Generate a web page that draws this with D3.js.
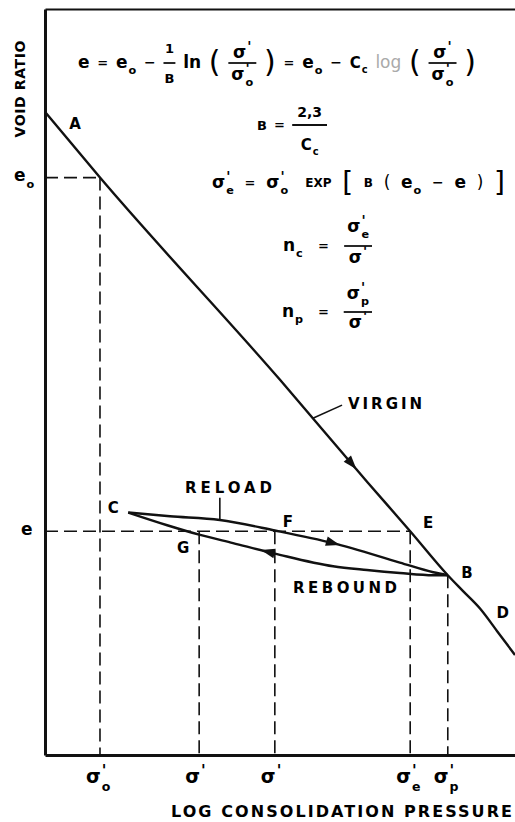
<!DOCTYPE html>
<meta charset="utf-8">
<script src="https://d3js.org/d3.v7.min.js"></script>
<style>
  body { margin: 0; background: #fff; }
  svg { font-family: "DejaVu Sans", sans-serif; font-weight: bold; }
</style>
<div id="chart"></div>
<script>

// schematic units: log consolidation pressure 0-100, void ratio 0-100
var virginX  = [0, 11.7, 50.0, 68.7, 77.7, 85.7, 88.9, 92.6, 96.2, 100];
var virginE  = [86.2, 77.4, 50.3, 36.5, 30.0, 24.1, 22.0, 19.6, 16.6, 13.4];
var reloadX  = [17.7, 26.6, 37.2, 48.9, 61.3, 75.5, 82.6, 85.7];
var reloadE  = [32.5, 32.0, 31.5, 30.1, 28.4, 25.8, 24.5, 24.1];
var reboundX = [17.7, 26.0, 33.0, 40.0, 48.9, 61.3, 68.5, 75.5, 82.6, 85.7];
var reboundE = [32.5, 30.8, 29.5, 28.4, 27.0, 25.3, 24.8, 24.4, 24.1, 24.1];

// pressure ticks (sigma'o, sigma', sigma', sigma'e, sigma'p) and the void ratio each guide rises to
var tickX   = [11.7, 32.8, 48.9, 77.7, 85.7];
var tickSub = ["o", "", "", "e", "p"];
var tickTop = [77.4, 30.0, 30.0, 30.0, 24.1];

// void ratio levels e_o and e, with the pressure where the dashed line stops
var eLevel = [77.4, 30.0];
var eSub   = ["o", ""];
var eStop  = [11.7, 77.7];

// point letters
var ptName = ["A", "C", "F", "E", "G", "B", "D"];
var ptX    = [6.4, 14.5, 51.7, 81.5, 29.4, 89.8, 97.4];
var ptE    = [84.7, 33.2, 31.3, 31.1, 27.8, 24.4, 19.1];

var width = 515, height = 822;
var svg = d3.select("#chart").append("svg")
    .attr("width", width)
    .attr("height", height);

var X = d3.scaleLinear().domain([0, 100]).range([45, 515]);
var Y = d3.scaleLinear().domain([0, 100]).range([755, 9]);

// frame: left axis, bottom axis, top line
svg.append("g").attr("transform", "translate(45,0)")
  .call(d3.axisLeft(Y).tickValues([]).tickSizeOuter(0));
svg.append("g").attr("transform", "translate(0,755)")
  .call(d3.axisBottom(X).tickValues([]).tickSizeOuter(0));
svg.append("g").attr("transform", "translate(0,9)")
  .call(d3.axisTop(X).tickValues([]).tickSizeOuter(0));
svg.selectAll(".domain").attr("stroke", "#111").attr("stroke-width", 3);
svg.select("g:nth-of-type(3) .domain").attr("stroke-width", 2.2);

// dashed guides
var dash = svg.append("g").attr("stroke", "#111").attr("stroke-width", 1.6)
  .attr("stroke-dasharray", "13,6").attr("fill", "none");
dash.selectAll(".v").data(tickX).enter().append("line")
  .attr("x1", function(d) { return X(d); })
  .attr("x2", function(d) { return X(d); })
  .attr("y1", function(d, i) { return Y(tickTop[i]); })
  .attr("y2", Y(0));
dash.selectAll(".h").data(eLevel).enter().append("line")
  .attr("x1", X(0))
  .attr("x2", function(d, i) { return X(eStop[i]); })
  .attr("y1", function(d) { return Y(d); })
  .attr("y2", function(d) { return Y(d); });

// curves
var line = d3.line()
  .x(function(d) { return X(d[0]); })
  .y(function(d) { return Y(d[1]); })
  .curve(d3.curveMonotoneX);

function curve(xs, es) {
  svg.append("path")
    .attr("d", line(xs.map(function(x, i) { return [x, es[i]]; })))
    .attr("fill", "none").attr("stroke", "#111").attr("stroke-width", 2.4);
  return d3.scaleLinear().domain(xs).range(es);
}
var fVirgin = curve(virginX, virginE);
var fReload = curve(reloadX, reloadE);
var fRebound = curve(reboundX, reboundE);

function arrow(f, xa, dir) {
  var x0 = X(xa), y0 = Y(f(xa));
  var x1 = X(xa + dir * 0.6), y1 = Y(f(xa + dir * 0.6));
  var ang = Math.atan2(y1 - y0, x1 - x0) * 180 / Math.PI;
  svg.append("path").attr("d", "M7,0L-7,-4.8L-7,4.8Z")
    .attr("transform", "translate(" + x0 + "," + y0 + ") rotate(" + ang + ")")
    .attr("fill", "#111");
}
arrow(fVirgin, 65.3, 1);
arrow(fReload, 61.3, 1);
arrow(fRebound, 47.4, -1);

// leaders for VIRGIN and RELOAD
svg.append("line").attr("x1", X(63.2)).attr("y1", Y(46.9))
  .attr("x2", X(57.0)).attr("y2", Y(fVirgin(57.0)))
  .attr("stroke", "#111").attr("stroke-width", 1.6);
svg.append("line").attr("x1", X(37.2)).attr("y1", Y(34.5))
  .attr("x2", X(37.2)).attr("y2", Y(fReload(37.2)))
  .attr("stroke", "#111").attr("stroke-width", 1.6);

// point letters
svg.selectAll(".pt").data(ptName).enter().append("text")
  .attr("x", function(d, i) { return X(ptX[i]); })
  .attr("y", function(d, i) { return Y(ptE[i]) + 5.5; })
  .attr("text-anchor", "middle")
  .attr("font-size", 15)
  .text(function(d) { return d; });

// curve names and axis titles
function label(s, x, y, len, fs) {
  return svg.append("text").attr("x", x).attr("y", y).attr("font-size", fs)
    .attr("textLength", len).attr("lengthAdjust", "spacing").text(s);
}
label("VIRGIN", 348, 409, 74, 15);
label("RELOAD", 185, 493, 87, 15);
label("REBOUND", 293, 593, 104, 15);
label("LOG CONSOLIDATION PRESSURE", 171, 817, 341, 16);
label("VOID RATIO", 0, 0, 97, 14)
  .attr("text-anchor", "middle")
  .attr("transform", "translate(25,89) rotate(-90)");

// --- little math layout helper ---
function item(g, it, cy) {
  if (it.frac) {
    var gn = g.append("g"), gd = g.append("g");
    var wn = item(gn, it.frac[0], cy + it.dy[0]);
    var wd = item(gd, it.frac[1], cy + it.dy[1]);
    var w = Math.max(wn, wd) + (it.pad || 6);
    gn.attr("transform", "translate(" + (w - wn) / 2 + ",0)");
    gd.attr("transform", "translate(" + (w - wd) / 2 + ",0)");
    g.append("line").attr("x1", 0).attr("x2", w).attr("y1", cy).attr("y2", cy)
      .attr("stroke", "#111").attr("stroke-width", 1.8);
    return w;
  }
  var fs = it.fs || 17;
  var t = g.append("text").attr("x", 0).attr("y", cy + fs * (it.base || 0.28))
    .attr("font-size", fs).text(it.t);
  if (it.fill) t.attr("fill", it.fill);
  if (it.w) t.attr("font-weight", it.w);
  var w = t.node().getComputedTextLength(), ext = 0;
  if (it.pr) {
    var p = g.append("text").attr("x", w + 1).attr("y", cy - fs * 0.1)
      .attr("font-size", fs * 0.8).text("'");
    ext = Math.max(ext, p.node().getComputedTextLength() + 1);
  }
  if (it.sub) {
    var s = g.append("text").attr("x", w + 1).attr("y", cy + fs * 0.66)
      .attr("font-size", fs * 0.66).text(it.sub);
    ext = Math.max(ext, s.node().getComputedTextLength() + 1);
  }
  return w + ext;
}

function row(items, x0, x1, cy) {
  var g = svg.append("g");
  var parts = items.map(function(it) {
    var gg = g.append("g");
    return { g: gg, w: item(gg, it, cy), k: it.gap == null ? 1 : it.gap };
  });
  var sum = d3.sum(parts, function(p) { return p.w; });
  var ks = d3.sum(parts.slice(1), function(p) { return p.k; });
  var unit = (x1 - x0 - sum) / ks, x = x0;
  parts.forEach(function(p, i) {
    if (i) x += p.k * unit;
    p.g.attr("transform", "translate(" + x + ",0)");
    x += p.w;
  });
}

var sig = { t: "σ", pr: 1 };
function sigma(sub, fs) { return { t: "σ", pr: 1, sub: sub, fs: fs }; }
function paren(c, fs) { return { t: c, fs: fs || 30, w: "normal", base: 0.31 }; }
var eq = { t: "=", fs: 13 }, minus = { t: "−", fs: 14 };

row([
  { t: "e" }, eq, { t: "e", sub: "o" }, minus,
  { frac: [{ t: "1", fs: 13, base: 0.36 }, { t: "B", fs: 13, base: 0.36 }], dy: [-15, 15], pad: 2 },
  { t: "ln" }, paren("("),
  { frac: [sig, sigma("o")], dy: [-10, 12] }, paren(")", 30),
  eq, { t: "e", sub: "o" }, minus, { t: "C", fs: 15, base: 0.36, sub: "c" },
  { t: "log", fill: "#aaa", w: "normal" }, paren("("),
  { frac: [sig, sigma("o")], dy: [-10, 12] }, paren(")")
], 78, 476, 63);

row([
  { t: "B", fs: 13, base: 0.36 }, eq,
  { frac: [{ t: "2,3", fs: 14, base: 0.36 }, { t: "C", fs: 15, base: 0.36, sub: "c" }], dy: [-13, 20], pad: 10 }
], 257, 327, 125);

row([
  sigma("e"), eq, sigma("o"),
  { t: "EXP", fs: 12, base: 0.36, gap: 1.6 }, paren("[", 28),
  { t: "B", fs: 12, base: 0.36 }, paren("(", 17),
  { t: "e", sub: "o" }, minus, { t: "e" }, paren(")", 17), paren("]", 28)
], 212, 505, 183);

row([
  { t: "n", sub: "c" }, eq,
  { frac: [sigma("e"), sig], dy: [-19, 12] }
], 283, 372, 246);

row([
  { t: "n", sub: "p" }, eq,
  { frac: [sigma("p"), sig], dy: [-18, 11] }
], 282, 372, 312);

// axis symbol labels
tickX.forEach(function(d, i) {
  var g = svg.append("g").attr("transform", "translate(" + (X(d) - 14) + ",0)");
  item(g, sigma(tickSub[i] || null, 19), 778);
});
eLevel.forEach(function(d, i) {
  var g = svg.append("g").attr("transform", "translate(" + (eSub[i] ? 14 : 21) + ",0)");
  item(g, eSub[i] ? { t: "e", sub: eSub[i] } : { t: "e" }, Y(d) - 1);
});

</script>
